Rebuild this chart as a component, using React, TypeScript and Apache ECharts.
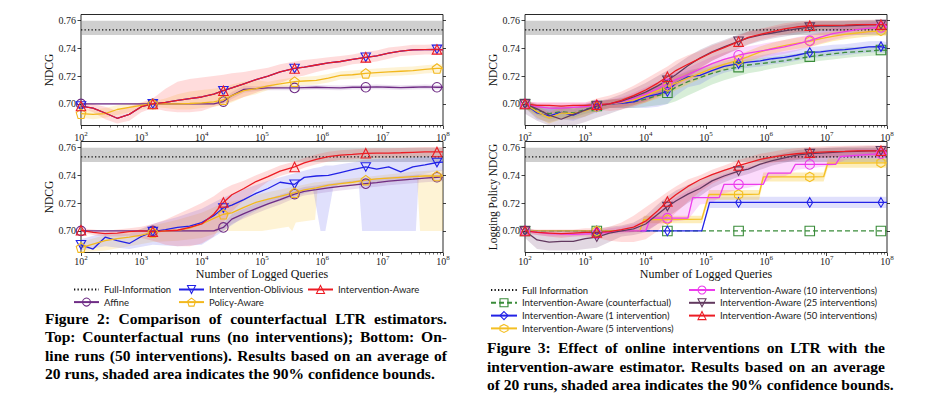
import React, { useEffect, useRef } from 'react';
import * as echarts from 'echarts';

// ---------- axes ----------
const X_MIN = 1e2;
const X_MAX = 1e8;
const Y_MIN = 0.6845;
const Y_MAX = 0.7643;
const Y_TICKS = [0.70, 0.72, 0.74, 0.76];
// exponents (log10 of number of logged queries) of the sample points
const E = [2, 2.2, 2.4, 2.6, 2.8, 3.0, 3.19, 3.4, 3.6, 3.8, 4.0, 4.2, 4.36, 4.5, 4.7, 4.9, 5.1, 5.3, 5.54, 5.7, 5.9, 6.1, 6.3, 6.5, 6.72, 6.9, 7.1, 7.3, 7.5, 7.7, 7.9, 8.0];
const MARK_E = [2, 3.19, 4.36, 5.54, 6.72, 7.9];

// ---------- full information ----------
const FI_E = [2, 8];
const FI_V = [0.7533, 0.7533];
const FI_LO = [0.7496, 0.7496];
const FI_HI = [0.7598, 0.7598];

// ---------- Figure 2 top (counterfactual) ----------
const TL_IA = [0.6985, 0.697, 0.6935, 0.6897, 0.6925, 0.698, 0.700, 0.7012, 0.7025, 0.7038, 0.705, 0.707, 0.7095, 0.7115, 0.7145, 0.7175, 0.720, 0.723, 0.7255, 0.7265, 0.728, 0.7295, 0.7305, 0.732, 0.7335, 0.7345, 0.7365, 0.738, 0.7388, 0.739, 0.7392, 0.7388];
const TL_OBL = TL_IA; // identical without interventions (hidden beneath red)
const TL_PA = [0.693, 0.6925, 0.693, 0.696, 0.6975, 0.699, 0.700, 0.700, 0.700, 0.7003, 0.7008, 0.7015, 0.703, 0.706, 0.7095, 0.711, 0.713, 0.7145, 0.716, 0.7165, 0.717, 0.7185, 0.7205, 0.721, 0.722, 0.7225, 0.723, 0.7235, 0.724, 0.7248, 0.7255, 0.7255];
const TL_AFF = [0.700, 0.700, 0.700, 0.700, 0.700, 0.700, 0.700, 0.700, 0.700, 0.700, 0.700, 0.700, 0.7017, 0.706, 0.7105, 0.711, 0.7115, 0.7115, 0.7115, 0.7118, 0.712, 0.7118, 0.7115, 0.712, 0.712, 0.7122, 0.712, 0.7118, 0.712, 0.7122, 0.712, 0.712];
const TL_IA_LO = [0.697, 0.694, 0.689, 0.686, 0.688, 0.694, 0.697, 0.695, 0.694, 0.694, 0.695, 0.698, 0.700, 0.702, 0.705, 0.708, 0.7115, 0.715, 0.719, 0.7205, 0.723, 0.725, 0.7265, 0.7285, 0.7295, 0.7305, 0.7325, 0.7345, 0.735, 0.7355, 0.7355, 0.7355];
const TL_IA_HI = [0.701, 0.700, 0.698, 0.695, 0.698, 0.701, 0.704, 0.711, 0.716, 0.718, 0.719, 0.720, 0.721, 0.722, 0.723, 0.7245, 0.726, 0.7285, 0.7305, 0.7315, 0.7325, 0.7335, 0.7345, 0.7355, 0.7375, 0.7385, 0.7405, 0.7415, 0.7425, 0.7425, 0.743, 0.7425];
const TL_PA_LO = [0.690, 0.689, 0.690, 0.692, 0.694, 0.696, 0.698, 0.697, 0.696, 0.696, 0.697, 0.698, 0.699, 0.701, 0.705, 0.707, 0.710, 0.7115, 0.713, 0.7135, 0.714, 0.7155, 0.7175, 0.718, 0.719, 0.7195, 0.720, 0.7205, 0.721, 0.7218, 0.7225, 0.7225];
const TL_PA_HI = [0.696, 0.696, 0.697, 0.699, 0.700, 0.701, 0.702, 0.704, 0.707, 0.709, 0.710, 0.711, 0.712, 0.714, 0.716, 0.717, 0.716, 0.7175, 0.719, 0.7195, 0.720, 0.7215, 0.7235, 0.724, 0.725, 0.7255, 0.726, 0.7265, 0.727, 0.7278, 0.7285, 0.7285];
const TL_AFF_LO = [0.6995, 0.6995, 0.6995, 0.6995, 0.6995, 0.6995, 0.6995, 0.6995, 0.6995, 0.6995, 0.6995, 0.6995, 0.700, 0.7035, 0.708, 0.7093, 0.7098, 0.7098, 0.7098, 0.7101, 0.7103, 0.7101, 0.7098, 0.7103, 0.7103, 0.7105, 0.7103, 0.7101, 0.7103, 0.7105, 0.7103, 0.7103];
const TL_AFF_HI = [0.7005, 0.7005, 0.7005, 0.7005, 0.7005, 0.7005, 0.7005, 0.7005, 0.7005, 0.7005, 0.7005, 0.7005, 0.7035, 0.7085, 0.713, 0.7127, 0.7132, 0.7132, 0.7132, 0.7135, 0.7137, 0.7135, 0.7132, 0.7137, 0.7137, 0.7139, 0.7137, 0.7135, 0.7137, 0.7139, 0.7137, 0.7137];

// ---------- Figure 2 bottom (online, 50 interventions) ----------
const BL_IA = [0.7005, 0.699, 0.698, 0.6985, 0.6995, 0.700, 0.6995, 0.700, 0.7005, 0.7025, 0.705, 0.712, 0.7205, 0.726, 0.7305, 0.7355, 0.739, 0.743, 0.746, 0.749, 0.7515, 0.7535, 0.7545, 0.755, 0.7558, 0.756, 0.756, 0.7562, 0.7565, 0.7568, 0.7568, 0.7568];
const BL_OBL = [0.690, 0.687, 0.6955, 0.693, 0.691, 0.696, 0.6995, 0.701, 0.7025, 0.7035, 0.706, 0.711, 0.7165, 0.7185, 0.7225, 0.727, 0.7305, 0.735, 0.7335, 0.7385, 0.7395, 0.740, 0.742, 0.744, 0.746, 0.7445, 0.746, 0.7425, 0.746, 0.7475, 0.7492, 0.7495];
const BL_PA = [0.688, 0.6905, 0.693, 0.6945, 0.6955, 0.697, 0.699, 0.700, 0.7005, 0.702, 0.705, 0.709, 0.712, 0.713, 0.717, 0.7205, 0.7228, 0.7248, 0.7275, 0.7295, 0.731, 0.733, 0.734, 0.735, 0.7365, 0.7375, 0.738, 0.7385, 0.739, 0.7395, 0.7395, 0.7395];
const BL_AFF = [0.700, 0.700, 0.700, 0.700, 0.700, 0.700, 0.700, 0.700, 0.700, 0.700, 0.700, 0.700, 0.7025, 0.7085, 0.7125, 0.716, 0.7195, 0.7225, 0.7265, 0.7285, 0.7297, 0.731, 0.732, 0.733, 0.734, 0.7348, 0.7358, 0.7365, 0.7372, 0.738, 0.7386, 0.7388];
const BL_IA_LO = [0.699, 0.697, 0.696, 0.696, 0.6965, 0.695, 0.693, 0.690, 0.689, 0.689, 0.691, 0.696, 0.706, 0.714, 0.722, 0.729, 0.7355, 0.7395, 0.7425, 0.7455, 0.748, 0.750, 0.751, 0.7515, 0.7523, 0.7525, 0.7525, 0.7527, 0.753, 0.7533, 0.7533, 0.7533];
const BL_IA_HI = [0.702, 0.701, 0.700, 0.701, 0.702, 0.703, 0.705, 0.708, 0.712, 0.716, 0.720, 0.725, 0.730, 0.733, 0.736, 0.740, 0.7435, 0.747, 0.750, 0.7525, 0.755, 0.757, 0.758, 0.7585, 0.7593, 0.7595, 0.7595, 0.7597, 0.760, 0.7603, 0.7603, 0.7603];
const BL_OBL_BE = [2, 2.4, 2.8, 3.19, 3.6, 4.0, 4.36, 4.7, 5.1, 5.5, 5.85, 5.97, 6.05, 6.18, 6.3, 6.6, 6.66, 7.0, 7.3, 7.55, 7.6, 7.9, 8.0];
const BL_OBL_LO = [0.686, 0.689, 0.687, 0.690, 0.689, 0.690, 0.700, 0.710, 0.719, 0.724, 0.729, 0.700, 0.700, 0.731, 0.734, 0.736, 0.700, 0.700, 0.700, 0.700, 0.740, 0.743, 0.743];
const BL_OBL_HI = [0.694, 0.699, 0.698, 0.705, 0.710, 0.716, 0.724, 0.730, 0.736, 0.741, 0.745, 0.746, 0.747, 0.747, 0.748, 0.750, 0.751, 0.752, 0.752, 0.753, 0.753, 0.754, 0.754];
const BL_PA_BE = [2, 2.4, 2.8, 3.19, 3.6, 4.0, 4.36, 4.6, 5.0, 5.44, 5.5, 5.56, 5.88, 5.92, 7.57, 7.62, 8.0];
const BL_PA_LO = [0.684, 0.686, 0.689, 0.692, 0.693, 0.695, 0.700, 0.700, 0.700, 0.703, 0.700, 0.706, 0.708, 0.730, 0.737, 0.700, 0.700];
const BL_PA_HI = [0.692, 0.697, 0.699, 0.704, 0.708, 0.713, 0.720, 0.722, 0.727, 0.731, 0.732, 0.732, 0.735, 0.735, 0.743, 0.743, 0.744];
const BL_AFF_LO = [0.6995, 0.6995, 0.6995, 0.6995, 0.6995, 0.6995, 0.6995, 0.6995, 0.6995, 0.6995, 0.6995, 0.6995, 0.700, 0.705, 0.709, 0.7125, 0.716, 0.719, 0.7235, 0.7255, 0.7267, 0.728, 0.729, 0.730, 0.731, 0.7318, 0.7328, 0.7335, 0.7342, 0.735, 0.7356, 0.7358];
const BL_AFF_HI = [0.7005, 0.7005, 0.7005, 0.7005, 0.7005, 0.7005, 0.7005, 0.7005, 0.7005, 0.7005, 0.7005, 0.7005, 0.705, 0.712, 0.716, 0.7195, 0.723, 0.726, 0.7295, 0.7315, 0.7327, 0.734, 0.735, 0.736, 0.737, 0.7378, 0.7388, 0.7395, 0.7402, 0.741, 0.7416, 0.7418];

// ---------- Figure 3 top (NDCG) ----------
const TR_CF = [0.700, 0.6955, 0.693, 0.6945, 0.6935, 0.696, 0.6985, 0.700, 0.7005, 0.7015, 0.7035, 0.706, 0.708, 0.712, 0.716, 0.719, 0.722, 0.7245, 0.7265, 0.728, 0.729, 0.730, 0.731, 0.7325, 0.734, 0.735, 0.736, 0.737, 0.7375, 0.738, 0.7388, 0.7385];
const TR_1 = [0.700, 0.6935, 0.6915, 0.694, 0.692, 0.6955, 0.698, 0.700, 0.7005, 0.7015, 0.705, 0.707, 0.709, 0.715, 0.7195, 0.7205, 0.724, 0.727, 0.729, 0.730, 0.731, 0.7325, 0.7335, 0.735, 0.737, 0.7375, 0.7385, 0.739, 0.740, 0.741, 0.7412, 0.740];
const TR_5 = [0.700, 0.6945, 0.690, 0.6935, 0.693, 0.695, 0.698, 0.700, 0.701, 0.703, 0.706, 0.7095, 0.7125, 0.715, 0.7185, 0.722, 0.7255, 0.7285, 0.7315, 0.734, 0.7375, 0.740, 0.742, 0.7435, 0.745, 0.747, 0.7485, 0.750, 0.751, 0.752, 0.7525, 0.7525];
const TR_10 = [0.700, 0.698, 0.697, 0.697, 0.6975, 0.698, 0.699, 0.700, 0.7015, 0.704, 0.707, 0.711, 0.7145, 0.7175, 0.721, 0.725, 0.729, 0.732, 0.735, 0.7365, 0.738, 0.7395, 0.741, 0.743, 0.7455, 0.748, 0.7505, 0.752, 0.7535, 0.7545, 0.755, 0.7555];
const TR_25 = [0.700, 0.6965, 0.692, 0.689, 0.6925, 0.6955, 0.6985, 0.700, 0.702, 0.705, 0.7085, 0.713, 0.717, 0.721, 0.7275, 0.733, 0.7375, 0.741, 0.745, 0.7475, 0.7495, 0.751, 0.7525, 0.754, 0.7552, 0.756, 0.756, 0.7562, 0.7565, 0.7568, 0.757, 0.757];
const TR_50 = [0.700, 0.699, 0.699, 0.6985, 0.699, 0.699, 0.6995, 0.700, 0.7025, 0.706, 0.710, 0.715, 0.7195, 0.724, 0.7285, 0.7328, 0.737, 0.7405, 0.7448, 0.7478, 0.750, 0.752, 0.754, 0.7553, 0.7562, 0.7565, 0.7565, 0.7567, 0.757, 0.757, 0.757, 0.7568];
const TR_CF_LO = [0.697, 0.692, 0.689, 0.690, 0.690, 0.693, 0.695, 0.697, 0.697, 0.697, 0.698, 0.699, 0.700, 0.702, 0.706, 0.710, 0.714, 0.717, 0.720, 0.722, 0.7235, 0.7255, 0.727, 0.7285, 0.730, 0.731, 0.732, 0.733, 0.734, 0.7345, 0.7348, 0.735];
const TR_CF_HI = [0.703, 0.699, 0.697, 0.699, 0.697, 0.699, 0.702, 0.703, 0.704, 0.706, 0.709, 0.712, 0.714, 0.717, 0.722, 0.725, 0.727, 0.729, 0.731, 0.732, 0.733, 0.734, 0.735, 0.736, 0.7375, 0.7385, 0.7395, 0.7405, 0.741, 0.7415, 0.742, 0.742];
const TR_1_LO = [0.697, 0.689, 0.687, 0.689, 0.688, 0.691, 0.694, 0.697, 0.697, 0.697, 0.697, 0.698, 0.700, 0.706, 0.712, 0.714, 0.719, 0.7225, 0.725, 0.726, 0.727, 0.7285, 0.7295, 0.731, 0.733, 0.7335, 0.7345, 0.735, 0.736, 0.737, 0.7372, 0.7365];
const TR_1_HI = [0.703, 0.698, 0.696, 0.699, 0.696, 0.700, 0.702, 0.703, 0.704, 0.706, 0.710, 0.713, 0.716, 0.720, 0.724, 0.726, 0.729, 0.731, 0.733, 0.734, 0.735, 0.7365, 0.7375, 0.739, 0.741, 0.7415, 0.7425, 0.743, 0.744, 0.745, 0.7452, 0.7445];
const TR_5_LO = [0.697, 0.690, 0.686, 0.689, 0.689, 0.691, 0.695, 0.697, 0.698, 0.699, 0.701, 0.704, 0.707, 0.710, 0.714, 0.718, 0.7215, 0.7245, 0.7275, 0.730, 0.7335, 0.736, 0.738, 0.7395, 0.741, 0.743, 0.745, 0.7465, 0.7475, 0.7485, 0.749, 0.749];
const TR_5_HI = [0.703, 0.699, 0.694, 0.698, 0.697, 0.699, 0.701, 0.703, 0.704, 0.707, 0.711, 0.715, 0.718, 0.720, 0.723, 0.726, 0.7295, 0.7325, 0.7355, 0.738, 0.7415, 0.744, 0.746, 0.7475, 0.749, 0.751, 0.752, 0.7535, 0.7545, 0.7555, 0.756, 0.756];
const TR_10_LO = [0.698, 0.695, 0.693, 0.693, 0.694, 0.695, 0.696, 0.697, 0.698, 0.700, 0.702, 0.706, 0.709, 0.712, 0.716, 0.720, 0.724, 0.727, 0.730, 0.7315, 0.733, 0.7345, 0.736, 0.738, 0.741, 0.7435, 0.746, 0.748, 0.7495, 0.7505, 0.751, 0.7515];
const TR_10_HI = [0.702, 0.701, 0.701, 0.701, 0.701, 0.701, 0.702, 0.703, 0.705, 0.708, 0.712, 0.716, 0.720, 0.723, 0.726, 0.730, 0.734, 0.737, 0.740, 0.7415, 0.743, 0.7445, 0.746, 0.748, 0.750, 0.752, 0.7545, 0.756, 0.7575, 0.7585, 0.759, 0.7595];
const TR_25_LO = [0.693, 0.688, 0.683, 0.683, 0.684, 0.687, 0.690, 0.693, 0.696, 0.699, 0.702, 0.706, 0.710, 0.714, 0.720, 0.726, 0.731, 0.735, 0.7395, 0.7425, 0.745, 0.747, 0.7485, 0.750, 0.7515, 0.7525, 0.7525, 0.7527, 0.753, 0.7533, 0.7535, 0.7535];
const TR_25_HI = [0.702, 0.700, 0.699, 0.697, 0.699, 0.700, 0.702, 0.704, 0.707, 0.711, 0.715, 0.720, 0.724, 0.728, 0.734, 0.739, 0.743, 0.746, 0.750, 0.752, 0.754, 0.755, 0.7565, 0.758, 0.7589, 0.7595, 0.7595, 0.7597, 0.760, 0.7603, 0.7605, 0.7605];
const TR_50_LO = [0.698, 0.697, 0.697, 0.696, 0.697, 0.697, 0.696, 0.695, 0.696, 0.698, 0.701, 0.705, 0.709, 0.713, 0.719, 0.725, 0.731, 0.735, 0.740, 0.743, 0.746, 0.748, 0.750, 0.7515, 0.7525, 0.753, 0.753, 0.7532, 0.7535, 0.7535, 0.7535, 0.7533];
const TR_50_HI = [0.702, 0.701, 0.701, 0.701, 0.701, 0.701, 0.704, 0.706, 0.709, 0.713, 0.718, 0.723, 0.727, 0.731, 0.735, 0.738, 0.742, 0.745, 0.749, 0.752, 0.754, 0.756, 0.758, 0.759, 0.7599, 0.760, 0.760, 0.7602, 0.7605, 0.7605, 0.7605, 0.7603];

// ---------- Figure 3 bottom (Logging Policy NDCG) ----------
const BR_50 = [0.700, 0.699, 0.6985, 0.698, 0.6985, 0.699, 0.699, 0.6995, 0.701, 0.7027, 0.707, 0.7145, 0.7212, 0.726, 0.732, 0.7368, 0.7405, 0.7435, 0.747, 0.749, 0.7515, 0.753, 0.7545, 0.7555, 0.7563, 0.7567, 0.757, 0.7572, 0.7575, 0.7576, 0.7576, 0.7576];
const BR_25 = [0.700, 0.6935, 0.692, 0.6925, 0.6925, 0.6945, 0.6955, 0.6985, 0.700, 0.7015, 0.705, 0.712, 0.7175, 0.7215, 0.7265, 0.7305, 0.736, 0.7395, 0.743, 0.7445, 0.748, 0.7505, 0.7525, 0.7545, 0.7556, 0.756, 0.7565, 0.757, 0.7572, 0.7575, 0.7576, 0.7576];
const BR_10_E = [2, 2.4, 2.8, 3.19, 3.6, 4.0, 4.08, 4.36, 4.7, 4.78, 5.22, 5.3, 5.54, 5.95, 6.03, 6.4, 6.48, 6.72, 7.15, 7.23, 7.9, 8];
const BR_10 = [0.700, 0.698, 0.6975, 0.698, 0.700, 0.700, 0.7092, 0.7092, 0.7092, 0.724, 0.724, 0.7335, 0.7335, 0.7335, 0.7415, 0.7415, 0.7478, 0.7478, 0.7478, 0.7535, 0.7556, 0.7558];
const BR_5_E = [2, 3.19, 3.9, 3.97, 4.36, 4.93, 5.05, 5.54, 5.88, 5.95, 6.72, 6.95, 7.02, 7.9, 8];
const BR_5 = [0.700, 0.700, 0.700, 0.7082, 0.7082, 0.7085, 0.7262, 0.7262, 0.7265, 0.7388, 0.7388, 0.739, 0.7488, 0.749, 0.749];
const BR_1_E = [2, 3.19, 4.36, 4.93, 5.06, 5.54, 6.72, 7.9, 8];
const BR_1 = [0.700, 0.700, 0.700, 0.700, 0.7205, 0.7205, 0.7205, 0.7205, 0.7205];
const BR_CF_E = [2, 3.19, 4.36, 5.54, 6.72, 7.9, 8];
const BR_CF = [0.700, 0.700, 0.700, 0.700, 0.700, 0.700, 0.700];
const BR_1_BE = [4.93, 5.06, 8];
const BR_1_LO = [0.700, 0.7165, 0.7165];
const BR_1_HI = [0.700, 0.7245, 0.7245];
const BR_5_BE = [3.9, 3.97, 4.93, 5.05, 5.88, 5.95, 6.95, 7.02, 8];
const BR_5_LO = [0.700, 0.7055, 0.7055, 0.7225, 0.7225, 0.7355, 0.7355, 0.7455, 0.7455];
const BR_5_HI = [0.700, 0.711, 0.711, 0.7295, 0.7295, 0.742, 0.742, 0.752, 0.752];
const BR_10_LO = [0.699, 0.697, 0.696, 0.696, 0.696, 0.697, 0.697, 0.698, 0.698, 0.699, 0.700, 0.705, 0.706, 0.707, 0.708, 0.719, 0.720, 0.727, 0.730, 0.731, 0.733, 0.738, 0.739, 0.744, 0.745, 0.746, 0.747, 0.751, 0.752, 0.752, 0.752, 0.752];
const BR_10_HI = [0.701, 0.700, 0.699, 0.699, 0.699, 0.700, 0.700, 0.702, 0.703, 0.705, 0.707, 0.714, 0.720, 0.724, 0.729, 0.733, 0.737, 0.741, 0.744, 0.746, 0.748, 0.750, 0.752, 0.754, 0.755, 0.756, 0.757, 0.758, 0.759, 0.759, 0.759, 0.759];
const BR_25_LO = [0.695, 0.687, 0.686, 0.686, 0.686, 0.687, 0.688, 0.692, 0.696, 0.697, 0.699, 0.705, 0.710, 0.714, 0.720, 0.725, 0.731, 0.735, 0.739, 0.741, 0.744, 0.747, 0.749, 0.751, 0.752, 0.7525, 0.753, 0.7535, 0.7538, 0.754, 0.754, 0.754];
const BR_25_HI = [0.703, 0.700, 0.699, 0.699, 0.699, 0.700, 0.701, 0.703, 0.704, 0.706, 0.711, 0.719, 0.725, 0.729, 0.733, 0.736, 0.741, 0.744, 0.747, 0.748, 0.752, 0.754, 0.756, 0.758, 0.759, 0.7595, 0.760, 0.7605, 0.7607, 0.761, 0.761, 0.761];
const BR_50_LO = [0.698, 0.697, 0.696, 0.695, 0.696, 0.696, 0.695, 0.693, 0.692, 0.692, 0.694, 0.700, 0.707, 0.713, 0.721, 0.728, 0.734, 0.738, 0.742, 0.745, 0.7475, 0.749, 0.7505, 0.7515, 0.7523, 0.7527, 0.753, 0.7532, 0.7535, 0.7536, 0.7536, 0.7536];
const BR_50_HI = [0.702, 0.701, 0.701, 0.701, 0.701, 0.702, 0.702, 0.703, 0.706, 0.711, 0.717, 0.723, 0.728, 0.732, 0.737, 0.740, 0.744, 0.747, 0.751, 0.753, 0.7555, 0.757, 0.7585, 0.7595, 0.7603, 0.7607, 0.761, 0.7612, 0.7615, 0.7616, 0.7616, 0.7616];

// ---------- texts ----------
const CAP2 = [
  'Figure 2: Comparison of counterfactual LTR estimators.',
  'Top: Counterfactual runs (no interventions); Bottom: On-',
  'line runs (50 interventions). Results based on an average of',
  '20 runs, shaded area indicates the 90% confidence bounds.',
];
const CAP3 = [
  'Figure 3: Effect of online interventions on LTR with the',
  'intervention-aware estimator. Results based on an average',
  'of 20 runs, shaded area indicates the 90% confidence bounds.',
];
const X_NAME = 'Number of Logged Queries';

// ---------- styles ----------
const SERIF = '"Liberation Serif", "DejaVu Serif", serif';
const SANS = 'Lato, "Noto Sans", sans-serif';
const C = {
  red: '#ec1c24', blue: '#2222e6', affine: '#6f2c85', policy: '#f2b81e',
  green: '#3a8c3a', magenta: '#ec3cec', p25: '#62395f', g5: '#f4bf22', black: '#111',
};
const F = {
  gray: 'rgba(140,140,140,0.42)', red: 'rgba(255,50,50,0.17)', blue: 'rgba(100,100,240,0.2)',
  affine: 'rgba(130,60,160,0.16)', policy: 'rgba(250,205,80,0.24)', green: 'rgba(60,170,60,0.2)',
  magenta: 'rgba(240,70,240,0.2)', p25: 'rgba(110,60,110,0.2)', g5: 'rgba(248,200,40,0.32)',
};
const SYM_DOWN = 'path://M0,0L10,0L5,9Z';
const SYM_PENT = 'path://M5,0L10,3.8L8.1,10L1.9,10L0,3.8Z';
const SYM_HEX = 'path://M5,0L9.3,2.5L9.3,7.5L5,10L0.7,7.5L0.7,2.5Z';
const SYM_THIN = 'path://M3,0L6,5L3,10L0,5Z';

const GRIDS = [
  { left: 81, top: 14.5, width: 362, height: 111 },
  { left: 81, top: 141.5, width: 362, height: 111 },
  { left: 525, top: 14.5, width: 362, height: 111 },
  { left: 525, top: 141.5, width: 362, height: 111 },
];
const Y_NAMES = ['NDCG', 'NDCG', 'NDCG', 'Logging Policy NDCG'];

const clampY = (v: number) => Math.min(Y_MAX, Math.max(Y_MIN, v));

function band(g: number, es: number[], lo: number[], hi: number[], fill: string) {
  return {
    type: 'custom', xAxisIndex: 2 * g, yAxisIndex: 2 * g, silent: true,
    data: es.map((e, i) => [Math.pow(10, e), lo[i], hi[i]]),
    encode: { x: 0, y: [1, 2] },
    renderItem: (params: any, api: any) => {
      if (params.dataIndex !== 0) return null;
      const up: number[][] = [];
      const dn: number[][] = [];
      for (let i = 0; i < es.length; i++) {
        const x = Math.pow(10, es[i]);
        up.push(api.coord([x, clampY(hi[i])]));
        dn.push(api.coord([x, clampY(lo[i])]));
      }
      return { type: 'polygon', shape: { points: up.concat(dn.reverse()) }, style: { fill, stroke: 'none' } };
    },
  };
}

function line(g: number, name: string, es: number[], vs: number[], color: string, symbol: string, dash?: any, width = 1.3) {
  return {
    type: 'line', name, xAxisIndex: 2 * g, yAxisIndex: 2 * g, silent: true,
    symbol, symbolSize: 9.5, symbolKeepAspect: true, showSymbol: true,
    data: es.map((e, i) => {
      const mark = MARK_E.some((m) => Math.abs(m - e) < 1e-6);
      return mark ? { value: [Math.pow(10, e), vs[i]] } : { value: [Math.pow(10, e), vs[i]], symbol: 'none' };
    }),
    lineStyle: { color, width, type: dash || 'solid' },
    itemStyle: { color: 'rgba(255,255,255,0)', borderColor: color, borderWidth: 1.1 },
    emphasis: { disabled: true },
  };
}

function fullInfoBand(g: number) {
  return band(g, FI_E, FI_LO, FI_HI, F.gray);
}
function fullInfoLine(g: number, name: string) {
  return line(g, name, FI_E, FI_V, '#111', 'none', [1.3, 2.2], 1.3);
}

const hollow = (c: string) => ({ color: 'rgba(255,255,255,0)', borderColor: c, borderWidth: 1.1 });

function justified(lines: string[], left: number, right: number, ys: number[], size: number, measure: (s: string) => number) {
  const out: any[] = [];
  const mk = (text: string, x: number, y: number) => ({
    type: 'text', x, y, silent: true,
    style: { text, fontFamily: SERIF, fontWeight: 'bold', fontSize: size, fill: '#000', align: 'left', verticalAlign: 'middle' },
  });
  lines.forEach((ln, li) => {
    if (li === lines.length - 1) { out.push(mk(ln, left, ys[li])); return; }
    const words = ln.split(' ');
    const ws = words.map(measure);
    const total = ws.reduce((a, b) => a + b, 0);
    const gap = (right - left - total) / (words.length - 1);
    let x = left;
    words.forEach((w, i) => { out.push(mk(w, x, ys[li])); x += ws[i] + gap; });
  });
  return out;
}

function buildOption() {
  const ctx = document.createElement('canvas').getContext('2d') as CanvasRenderingContext2D;
  ctx.font = `bold 15px ${SERIF}`;
  const size = 15 * (435 - 45) / ctx.measureText(CAP2[3]).width;
  ctx.font = `bold ${size}px ${SERIF}`;
  const measure = (s: string) => ctx.measureText(s).width;

  const minor: number[] = [];
  for (let k = 2; k < 8; k++) for (let m = 2; m <= 9; m++) minor.push(k + Math.log10(m));

  const xAxis: any[] = [];
  const yAxis: any[] = [];
  GRIDS.forEach((_, g) => {
    const isBottom = g % 2 === 1;
    xAxis.push({
      type: 'log', gridIndex: g, logBase: 10, min: X_MIN, max: X_MAX, position: 'bottom',
      axisLine: { show: false }, splitLine: { show: false },
      axisTick: { show: true, length: 3.5, lineStyle: { color: '#111', width: 0.8 } },
      axisLabel: {
        margin: isBottom ? 2 : 4.5, formatter: (v: number) => `{b|10}{s|${Math.round(Math.log10(v))}}`,
        rich: {
          b: { fontFamily: SERIF, fontSize: 10, lineHeight: 12, color: '#222', verticalAlign: 'bottom' },
          s: { fontFamily: SERIF, fontSize: 7, lineHeight: 7, color: '#222', verticalAlign: 'top' },
        },
      },
      name: isBottom ? X_NAME : '', nameLocation: 'middle', nameGap: 15,
      nameTextStyle: { fontFamily: SERIF, fontSize: 12, color: '#111' },
    });
    xAxis.push({
      type: 'value', gridIndex: g, min: 2, max: 8, position: 'bottom',
      axisLine: { show: false }, splitLine: { show: false }, axisLabel: { show: false },
      axisTick: { show: true, length: 2, customValues: minor, lineStyle: { color: '#111', width: 0.6 } },
    });
    yAxis.push({
      type: 'value', gridIndex: g, min: Y_MIN, max: Y_MAX, position: 'left',
      axisLine: { show: false }, splitLine: { show: false },
      axisTick: { show: true, length: 3.5, customValues: Y_TICKS, lineStyle: { color: '#111', width: 0.8 } },
      axisLabel: { customValues: Y_TICKS, formatter: (v: number) => v.toFixed(2), margin: 5, fontFamily: SERIF, fontSize: 10, color: '#222' },
      name: Y_NAMES[g], nameLocation: 'middle', nameGap: 25, nameRotate: 90,
      nameTextStyle: { fontFamily: SERIF, fontSize: 11.5, color: '#111' },
    });
    yAxis.push({
      type: 'value', gridIndex: g, min: Y_MIN, max: Y_MAX, position: 'right',
      axisLine: { show: false }, splitLine: { show: false }, axisLabel: { show: false },
      axisTick: { show: true, length: 3, customValues: Y_TICKS, lineStyle: { color: '#111', width: 0.8 } },
    });
  });

  const series: any[] = [
    // ----- Figure 2 top -----
    fullInfoBand(0),
    band(0, E, TL_AFF_LO, TL_AFF_HI, F.affine),
    band(0, E, TL_PA_LO, TL_PA_HI, F.policy),
    band(0, E, TL_IA_LO, TL_IA_HI, F.red),
    fullInfoLine(0, 'Full-Information'),
    line(0, 'Affine', E, TL_AFF, C.affine, 'circle'),
    line(0, 'Intervention-Oblivious', E, TL_OBL, C.blue, SYM_DOWN),
    line(0, 'Policy-Aware', E, TL_PA, C.policy, SYM_PENT),
    line(0, 'Intervention-Aware', E, TL_IA, C.red, 'triangle'),
    // ----- Figure 2 bottom -----
    fullInfoBand(1),
    band(1, BL_PA_BE, BL_PA_LO, BL_PA_HI, F.policy),
    band(1, BL_OBL_BE, BL_OBL_LO, BL_OBL_HI, F.blue),
    band(1, E, BL_AFF_LO, BL_AFF_HI, F.affine),
    band(1, E, BL_IA_LO, BL_IA_HI, F.red),
    fullInfoLine(1, 'Full-Information'),
    line(1, 'Affine', E, BL_AFF, C.affine, 'circle'),
    line(1, 'Intervention-Oblivious', E, BL_OBL, C.blue, SYM_DOWN),
    line(1, 'Policy-Aware', E, BL_PA, C.policy, SYM_PENT),
    line(1, 'Intervention-Aware', E, BL_IA, C.red, 'triangle'),
    // ----- Figure 3 top -----
    fullInfoBand(2),
    band(2, E, TR_CF_LO, TR_CF_HI, F.green),
    band(2, E, TR_1_LO, TR_1_HI, F.blue),
    band(2, E, TR_5_LO, TR_5_HI, F.g5),
    band(2, E, TR_10_LO, TR_10_HI, F.magenta),
    band(2, E, TR_25_LO, TR_25_HI, F.p25),
    band(2, E, TR_50_LO, TR_50_HI, F.red),
    fullInfoLine(2, 'Full Information'),
    line(2, 'Intervention-Aware (counterfactual)', E, TR_CF, C.green, 'rect', [5, 3]),
    line(2, 'Intervention-Aware (1 intervention)', E, TR_1, C.blue, SYM_THIN),
    line(2, 'Intervention-Aware (5 interventions)', E, TR_5, C.g5, SYM_HEX),
    line(2, 'Intervention-Aware (10 interventions)', E, TR_10, C.magenta, 'circle'),
    line(2, 'Intervention-Aware (25 interventions)', E, TR_25, C.p25, SYM_DOWN),
    line(2, 'Intervention-Aware (50 interventions)', E, TR_50, C.red, 'triangle'),
    // ----- Figure 3 bottom -----
    fullInfoBand(3),
    band(3, BR_1_BE, BR_1_LO, BR_1_HI, F.blue),
    band(3, BR_5_BE, BR_5_LO, BR_5_HI, F.g5),
    band(3, E, BR_10_LO, BR_10_HI, F.magenta),
    band(3, E, BR_25_LO, BR_25_HI, F.p25),
    band(3, E, BR_50_LO, BR_50_HI, F.red),
    fullInfoLine(3, 'Full Information'),
    line(3, 'Intervention-Aware (counterfactual)', BR_CF_E, BR_CF, C.green, 'rect', [5, 3]),
    line(3, 'Intervention-Aware (1 intervention)', BR_1_E, BR_1, C.blue, SYM_THIN),
    line(3, 'Intervention-Aware (5 interventions)', BR_5_E, BR_5, C.g5, SYM_HEX),
    line(3, 'Intervention-Aware (10 interventions)', BR_10_E, BR_10, C.magenta, 'circle'),
    line(3, 'Intervention-Aware (25 interventions)', E, BR_25, C.p25, SYM_DOWN),
    line(3, 'Intervention-Aware (50 interventions)', E, BR_50, C.red, 'triangle'),
  ];

  const legendBase = {
    orient: 'vertical', itemWidth: 25, itemHeight: 10, itemGap: 2.6, selectedMode: false, padding: 0,
    textStyle: { fontFamily: SANS, fontSize: 9.5, color: '#222', lineHeight: 10 },
  };
  const noSym = { opacity: 0 };
  const legend = [
    { ...legendBase, left: 73, top: 284.5, data: [{ name: 'Full-Information', itemStyle: noSym }, { name: 'Affine', itemStyle: hollow(C.affine) }] },
    { ...legendBase, left: 178, top: 284.5, data: [{ name: 'Intervention-Oblivious', itemStyle: hollow(C.blue) }, { name: 'Policy-Aware', itemStyle: hollow(C.policy) }] },
    { ...legendBase, left: 307, top: 284.5, data: [{ name: 'Intervention-Aware', itemStyle: hollow(C.red) }] },
    {
      ...legendBase, left: 490, top: 285, itemWidth: 26, itemGap: 2.8, data: [
        { name: 'Full Information', itemStyle: noSym },
        { name: 'Intervention-Aware (counterfactual)', itemStyle: hollow(C.green) },
        { name: 'Intervention-Aware (1 intervention)', itemStyle: hollow(C.blue) },
        { name: 'Intervention-Aware (5 interventions)', itemStyle: hollow(C.g5) },
      ],
    },
    {
      ...legendBase, left: 688, top: 285, itemWidth: 26, itemGap: 2.8, data: [
        { name: 'Intervention-Aware (10 interventions)', itemStyle: hollow(C.magenta) },
        { name: 'Intervention-Aware (25 interventions)', itemStyle: hollow(C.p25) },
        { name: 'Intervention-Aware (50 interventions)', itemStyle: hollow(C.red) },
      ],
    },
  ];

  const graphic = [
    ...justified(CAP2, 45, 447, [318.3, 336.7, 355, 373.3], size, measure),
    ...justified(CAP3, 487, 885, [347.7, 366, 384.3], size, measure),
  ];

  return {
    animation: false,
    backgroundColor: '#fff',
    textStyle: { fontFamily: SERIF },
    grid: GRIDS.map((g) => ({ ...g, show: true, borderColor: '#111', borderWidth: 0.9, backgroundColor: 'transparent' })),
    xAxis, yAxis, series, legend, graphic,
  };
}

export default function App() {
  const ref = useRef<HTMLDivElement>(null);
  useEffect(() => {
    const el = ref.current as HTMLDivElement;
    const chart = echarts.init(el, null, { renderer: 'svg' });
    chart.setOption(buildOption() as any);
    return () => chart.dispose();
  }, []);
  return <div ref={ref} style={{ position: 'absolute', left: 0, top: 0, width: 947, height: 398, background: '#fff' }} />;
}
